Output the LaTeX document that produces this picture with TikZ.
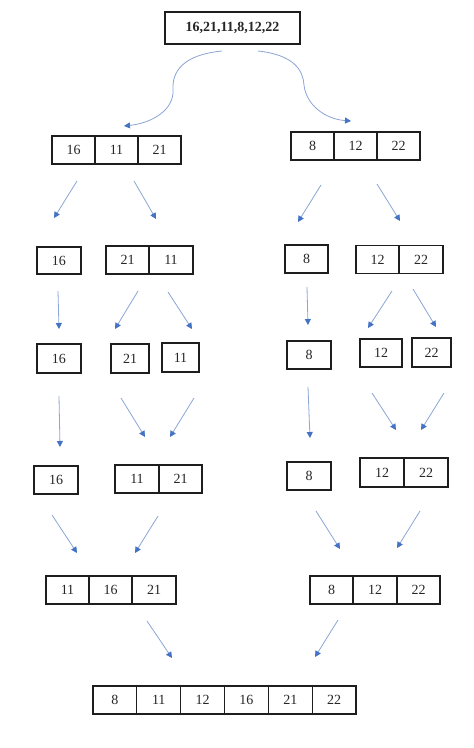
\documentclass[tikz,border=0pt]{standalone}
\usepackage{fontspec}
\setmainfont{Liberation Serif}
\usetikzlibrary{arrows.meta}
\definecolor{lineblue}{RGB}{140,165,215}
\definecolor{headblue}{RGB}{68,114,196}
\definecolor{boxline}{RGB}{30,30,30}
\newcommand\myconn[3]{\coordinate (#1s) at (#2); \coordinate (#1e) at (#3); \draw[conn] (#1s) -- (#1e);}
\begin{document}
\begin{tikzpicture}[x=1pt,y=-1pt,
  cell/.style={draw=boxline, line width=1.1pt, minimum width=43pt, minimum height=28pt, inner sep=0pt, text=black!85, font=\fontsize{14}{16}\selectfont},
  conn/.style={draw=lineblue, line width=0.8pt, -{Triangle[length=6pt,width=6pt,color=headblue]}}]
\useasboundingbox[fill=white] (0,0) rectangle (474,748);

% top
\node[cell, minimum width=135pt, minimum height=32pt, font=\fontsize{14}{16}\selectfont\bfseries] (top) at (232.5,28) {16,21,11,8,12,22};

% row 1
\node[cell] (l1a) at (73.5,150) {16};
\node[cell] (l1b) at (116.5,150) {11};
\node[cell] (l1c) at (159.5,150) {21};
\node[cell] (r1a) at (312.5,146) {8};
\node[cell] (r1b) at (355.5,146) {12};
\node[cell] (r1c) at (398.5,146) {22};

% row 2
\node[cell, minimum width=44pt, minimum height=27pt] (l2a) at (59,260.5) {16};
\node[cell, minimum height=28pt] (l2b) at (127.5,260) {21};
\node[cell, minimum width=44pt] (l2c) at (171,260) {11};
\node[cell, minimum width=43pt] (r2a) at (306.5,259) {8};
\node[cell] (r2b) at (377.5,259.5) {12};
\node[cell, minimum width=44pt] (r2c) at (421,259.5) {22};

% row 3
\node[cell, minimum width=44pt, minimum height=29pt] (l3a) at (59,358.5) {16};
\node[cell, minimum width=38pt, minimum height=29pt] (l3b) at (130,358.5) {21};
\node[cell, minimum width=37pt, minimum height=29pt] (l3c) at (180.5,357.5) {11};
\node[cell, minimum width=44pt] (r3a) at (309,355) {8};
\node[cell, minimum width=42pt] (r3b) at (381,353) {12};
\node[cell, minimum width=39pt, minimum height=29pt] (r3c) at (431.5,352.5) {22};

% row 4
\node[cell, minimum width=44pt] (l4a) at (56,480) {16};
\node[cell, minimum width=44pt] (l4b) at (137,479) {11};
\node[cell] (l4c) at (180.5,479) {21};
\node[cell, minimum width=44pt] (r4a) at (309,476) {8};
\node[cell, minimum width=44pt, minimum height=29pt] (r4b) at (382,472.5) {12};
\node[cell, minimum width=44pt, minimum height=29pt] (r4c) at (426,472.5) {22};

% row 5
\node[cell] (l5a) at (67.5,590) {11};
\node[cell] (l5b) at (110.5,590) {16};
\node[cell, minimum width=44pt] (l5c) at (154,590) {21};
\node[cell] (r5a) at (331.5,590) {8};
\node[cell, minimum width=44pt] (r5b) at (375,590) {12};
\node[cell] (r5c) at (418.5,590) {22};

% row 6
\node[cell, minimum width=43.8pt] (f1) at (114.9,700) {8};
\node[cell, minimum width=43.8pt] (f2) at (158.75,700) {11};
\node[cell, minimum width=43.8pt] (f3) at (202.6,700) {12};
\node[cell, minimum width=43.8pt] (f4) at (246.4,700) {16};
\node[cell, minimum width=43.8pt] (f5) at (290.25,700) {21};
\node[cell, minimum width=43.8pt] (f6) at (334.1,700) {22};

% curved split arrows
\coordinate (c1s) at (222,51);
\coordinate (c1m) at (173,90);
\coordinate (c1e) at (124,126);
\draw[conn] (c1s) .. controls (182,55) and (172,72) .. (c1m) .. controls (174,110) and (152,123) .. (c1e);
\coordinate (c2s) at (258,51);
\coordinate (c2m) at (304,85);
\coordinate (c2e) at (351,121);
\draw[conn] (c2s) .. controls (294,55) and (303,70) .. (c2m) .. controls (306,104) and (324,119) .. (c2e);

% row1 -> row2
\myconn{a1}{77,181}{54,218}
\myconn{a2}{134,181}{156,219}
\myconn{a3}{321,185}{298,222}
\myconn{a4}{377,184}{400,221}

% row2 -> row3
\myconn{b1}{58,291}{59,329}
\myconn{b2}{138,291}{115,329}
\myconn{b3}{168,292}{192,329}
\myconn{b4}{307,287}{308,325}
\myconn{b5}{392,291}{368,328}
\myconn{b6}{413,289}{436,327}

% row3 -> row4
\myconn{d1}{59,396}{60,447}
\myconn{d2}{121,398}{145,437}
\myconn{d3}{194,398}{170,437}
\myconn{d4}{308,387}{310,438}
\myconn{d5}{372,393}{396,430}
\myconn{d6}{444,393}{421,430}

% row4 -> row5
\myconn{e1}{52,515}{77,553}
\myconn{e2}{158,516}{135,553}
\myconn{e3}{316,511}{340,549}
\myconn{e4}{420,511}{397,548}

% row5 -> row6
\myconn{g1}{147,621}{172,658}
\myconn{g2}{338,620}{315,657}
\end{tikzpicture}
\end{document}
